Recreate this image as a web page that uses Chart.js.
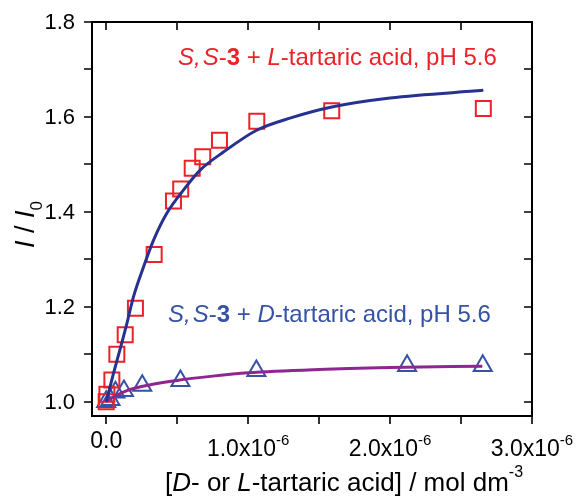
<!DOCTYPE html>
<html>
<head>
<meta charset="utf-8">
<script src="https://cdn.jsdelivr.net/npm/chart.js@4.4.1/dist/chart.umd.min.js"></script>
<style>
  html, body { margin: 0; padding: 0; background: #fff; }
  #wrap { width: 577px; height: 496px; }
</style>
</head>
<body>
<div id="wrap"><canvas id="titrationChart" width="577" height="496"></canvas></div>
<script>
// S,S-3 + L-tartaric acid (squares)
const lConc = [0, 0.005e-6, 0.04e-6, 0.075e-6, 0.134e-6, 0.206e-6, 0.338e-6, 0.474e-6,
  0.525e-6, 0.606e-6, 0.68e-6, 0.798e-6, 1.061e-6, 1.589e-6, 2.657e-6];
const lRatio = [1.0, 1.016, 1.046, 1.1, 1.141, 1.197, 1.31, 1.423,
  1.448, 1.492, 1.516, 1.551, 1.591, 1.613, 1.618];

// S,S-3 + D-tartaric acid (triangles)
const dConc = [0, 0.03e-6, 0.065e-6, 0.125e-6, 0.254e-6, 0.523e-6, 1.058e-6, 2.12e-6, 2.653e-6];
const dRatio = [1.0, 1.004, 1.02, 1.023, 1.034, 1.044, 1.065, 1.076, 1.076];

// fitted curves
const lFitConc = [0, 0.05e-6, 0.1e-6, 0.146e-6, 0.192e-6, 0.263e-6, 0.333e-6, 0.427e-6,
  0.544e-6, 0.662e-6, 0.826e-6, 1.06e-6, 1.3e-6, 1.589e-6, 2.0e-6, 2.657e-6];
const lFitRatio = [1.0, 1.058, 1.113, 1.165, 1.221, 1.284, 1.34, 1.397,
  1.446, 1.488, 1.526, 1.572, 1.598, 1.621, 1.64, 1.656];
const dFitConc = [0, 0.05e-6, 0.125e-6, 0.25e-6, 0.5e-6, 0.75e-6, 1.0e-6, 1.5e-6, 2.0e-6, 2.65e-6];
const dFitRatio = [1.0, 1.01, 1.021, 1.032, 1.045, 1.054, 1.061, 1.068, 1.072, 1.075];

const xMajorTicks = [0, 1e-6, 2e-6, 3e-6];
const xTickLabels = ["0.0", "1.0x10", "2.0x10", "3.0x10"];
const xTickExps = ["", "-6", "-6", "-6"];
const xMinorTicks = [0.5e-6, 1.5e-6, 2.5e-6];
const yMajorTicks = [1.0, 1.2, 1.4, 1.6, 1.8];
const yTickLabels = ["1.0", "1.2", "1.4", "1.6", "1.8"];
const yMinorTicks = [1.1, 1.3, 1.5, 1.7];

const RED = "#ec2228";
const NAVY = "#27318f";
const PURPLE = "#8e2690";
const BLUE = "#3552a5";
const FAMILY = '"Liberation Sans", Arial, sans-serif';

function points(xs, ys) {
  return xs.map(function (x, i) {
    return { x: x, y: ys[i] };
  });
}

function font(size, style, weight) {
  return (style || "normal") + " " + (weight || "normal") + " " + size + "px " + FAMILY;
}

// draw a row of differently styled pieces of text, left to right
function drawRuns(ctx, runs, x, y) {
  runs.forEach(function (r) {
    ctx.font = r.font;
    ctx.fillText(r.text, x, y + (r.dy || 0));
    x += ctx.measureText(r.text).width + (r.gap || 0);
  });
  return x;
}

function runsWidth(ctx, runs) {
  let w = 0;
  runs.forEach(function (r) {
    ctx.font = r.font;
    w += ctx.measureText(r.text).width + (r.gap || 0);
  });
  return w;
}

const framePlugin = {
  id: "frame",
  afterDraw: function (chart) {
    const ctx = chart.ctx;
    const a = chart.chartArea;
    const xs = chart.scales.x;
    const ys = chart.scales.y;
    const tick = 8;
    ctx.save();
    ctx.strokeStyle = "#000";
    ctx.fillStyle = "#000";
    ctx.lineWidth = 2;
    ctx.strokeRect(a.left, a.top, a.right - a.left, a.bottom - a.top);

    ctx.lineWidth = 1.6;
    xMajorTicks.concat(xMinorTicks).forEach(function (v) {
      const px = Math.round(xs.getPixelForValue(v));
      ctx.beginPath();
      ctx.moveTo(px, a.bottom);
      ctx.lineTo(px, a.bottom + tick);
      ctx.moveTo(px, a.top);
      ctx.lineTo(px, a.top + tick);
      ctx.stroke();
    });
    yMajorTicks.concat(yMinorTicks).forEach(function (v) {
      const py = Math.round(ys.getPixelForValue(v));
      ctx.beginPath();
      ctx.moveTo(a.left, py);
      ctx.lineTo(a.left - tick, py);
      ctx.moveTo(a.right, py);
      ctx.lineTo(a.right - tick, py);
      ctx.stroke();
    });

    // y tick labels
    ctx.font = font(22);
    ctx.textAlign = "right";
    ctx.textBaseline = "middle";
    yMajorTicks.forEach(function (v, i) {
      ctx.fillText(yTickLabels[i], a.left - 17, ys.getPixelForValue(v) + 1);
    });

    // x tick labels with exponents
    ctx.textAlign = "left";
    ctx.textBaseline = "alphabetic";
    xMajorTicks.forEach(function (v, i) {
      const runs = [{ text: xTickLabels[i], font: font(23) }];
      if (xTickExps[i]) runs.push({ text: xTickExps[i], font: font(15), dy: -11 });
      const w = runsWidth(ctx, runs);
      const base = a.bottom + (xTickExps[i] ? 40 : 32);
      drawRuns(ctx, runs, xs.getPixelForValue(v) - w / 2, base);
    });

    // x axis title
    drawRuns(ctx, [
      { text: "[", font: font(26) },
      { text: "D", font: font(26, "italic") },
      { text: "- or ", font: font(26) },
      { text: "L", font: font(26, "italic") },
      { text: "-tartaric acid] / mol dm", font: font(26) },
      { text: "-3", font: font(16), dy: -14 },
    ], 165, 491);

    // y axis title
    ctx.save();
    ctx.translate(34, 248);
    ctx.rotate(-Math.PI / 2);
    drawRuns(ctx, [
      { text: "I", font: font(27, "italic") },
      { text: " / ", font: font(27) },
      { text: "I", font: font(27, "italic") },
      { text: "0", font: font(17), dy: 8 },
    ], 0, 0);
    ctx.restore();

    // series labels
    ctx.fillStyle = RED;
    drawRuns(ctx, [
      { text: "S,", font: font(24, "italic"), gap: 2 },
      { text: "S", font: font(24, "italic") },
      { text: "-", font: font(24) },
      { text: "3", font: font(24, "normal", "bold") },
      { text: " + ", font: font(24) },
      { text: "L", font: font(24, "italic") },
      { text: "-tartaric acid, pH 5.6", font: font(24) },
    ], 178, 65);
    ctx.fillStyle = BLUE;
    drawRuns(ctx, [
      { text: "S,", font: font(24, "italic"), gap: 2 },
      { text: "S", font: font(24, "italic") },
      { text: "-", font: font(24) },
      { text: "3", font: font(24, "normal", "bold") },
      { text: " + ", font: font(24) },
      { text: "D", font: font(24, "italic") },
      { text: "-tartaric acid, pH 5.6", font: font(24) },
    ], 168, 322);
    ctx.restore();
  },
};

new Chart(document.getElementById("titrationChart"), {
  type: "scatter",
  data: {
    datasets: [
      {
        label: "L fit",
        data: points(lFitConc, lFitRatio),
        showLine: true,
        borderColor: NAVY,
        borderWidth: 3,
        pointRadius: 0,
        cubicInterpolationMode: "monotone",
      },
      {
        label: "D fit",
        data: points(dFitConc, dFitRatio),
        showLine: true,
        borderColor: PURPLE,
        borderWidth: 3,
        pointRadius: 0,
        cubicInterpolationMode: "monotone",
      },
      {
        label: "S,S-3 + L-tartaric acid",
        data: points(lConc, lRatio),
        pointStyle: "rect",
        pointRadius: 10.6,
        borderColor: RED,
        borderWidth: 2,
        backgroundColor: "rgba(0,0,0,0)",
      },
      {
        label: "S,S-3 + D-tartaric acid",
        data: points(dConc, dRatio),
        pointStyle: "triangle",
        pointRadius: 10.4,
        borderColor: BLUE,
        borderWidth: 2,
        backgroundColor: "rgba(0,0,0,0)",
      },
    ],
  },
  options: {
    responsive: false,
    animation: false,
    devicePixelRatio: 1,
    layout: { padding: { left: 92, right: 45, top: 22, bottom: 80 } },
    scales: {
      x: { type: "linear", min: -0.1e-6, max: 3.0e-6, display: false },
      y: { type: "linear", min: 0.97, max: 1.8, display: false },
    },
    plugins: {
      legend: { display: false },
      tooltip: { enabled: false },
    },
  },
  plugins: [framePlugin],
});
</script>
</body>
</html>
